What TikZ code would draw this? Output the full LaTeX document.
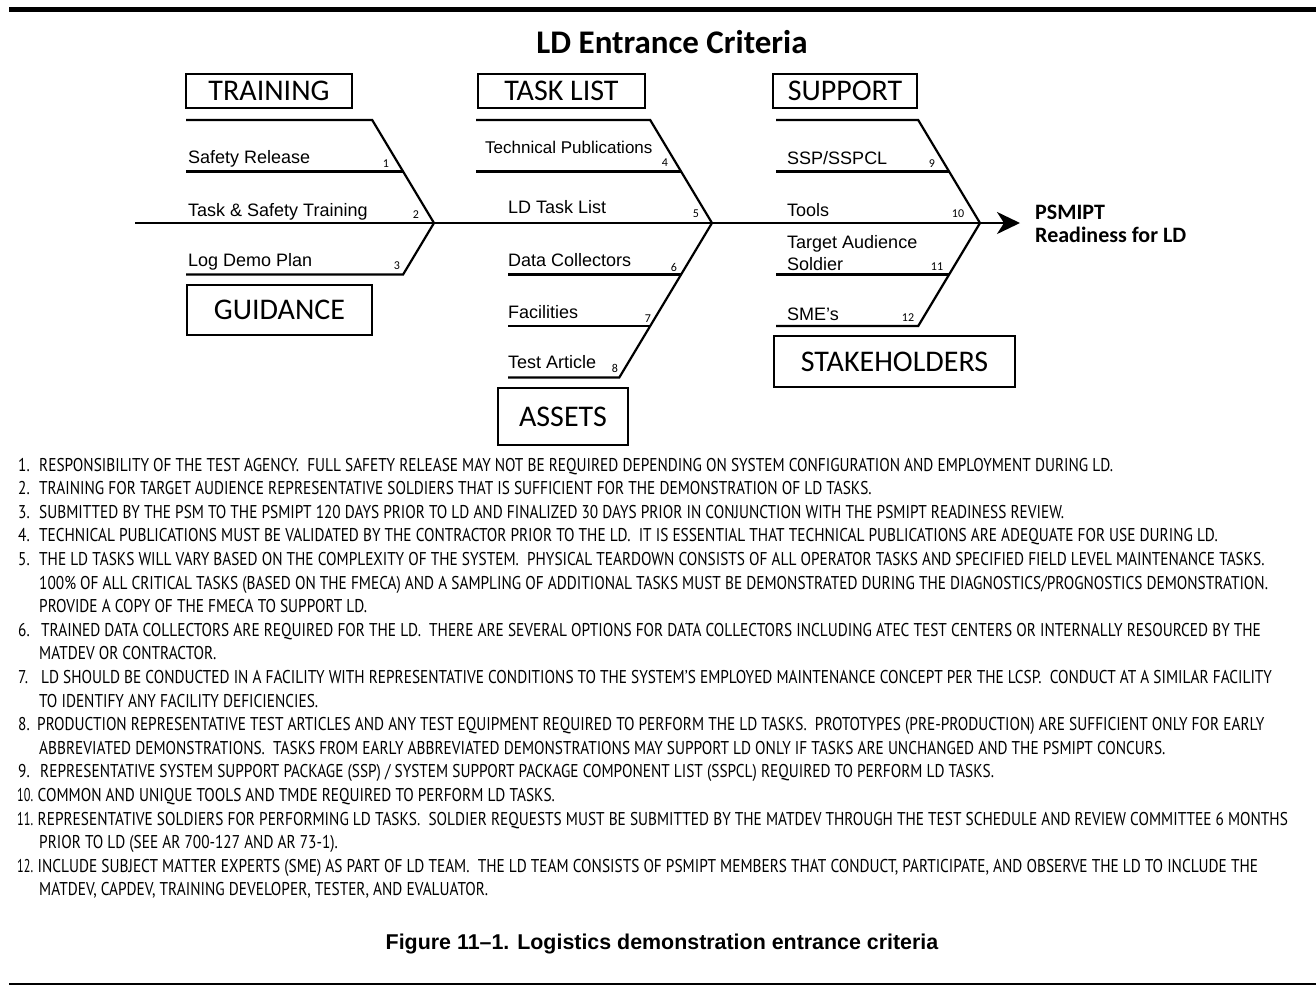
\documentclass[tikz,border=0pt]{standalone}
\usepackage{fontspec}
\usepackage{graphicx}
\usetikzlibrary{arrows.meta}
\setmainfont{Liberation Sans}
\newfontfamily\boxfont{Carlito}
\newfontfamily\notefont{PT Sans}
\newcommand\notesize{\fontsize{18.5}{20}\selectfont}
\newsavebox\calbox

% horizontal condensing factor for the notes, from the width of the first note
\AtBeginDocument{%
  \sbox\calbox{\notefont\notesize RESPONSIBILITY OF THE TEST AGENCY.\ \ FULL SAFETY RELEASE MAY NOT BE REQUIRED DEPENDING ON SYSTEM CONFIGURATION AND EMPLOYMENT DURING LD.}%
  \pgfmathparse{1074/\wd\calbox}%
  \xdef\nsx{\pgfmathresult}%
  \pgfmathparse{0.8*\nsx}%
  \xdef\nsxn{\pgfmathresult}%
}

\tikzset{
  lbl/.style={anchor=base west, inner sep=0pt, font=\fontsize{18}{18}\selectfont},
  num/.style={anchor=base, inner sep=0pt, font=\boxfont\fontsize{12}{12}\selectfont},
  catbox/.style={draw, line width=2pt, inner sep=0pt, font=\boxfont\fontsize{30}{30}\selectfont},
  bone/.style={line width=2.2pt},
  spine/.style={line width=2.5pt},
  noteline/.style={anchor=base west, inner sep=0pt},
}

% one line of the numbered notes, condensed to the common width factor
\newcommand\nline[4]{\node[noteline] (#1) at (#2,#3) {\scalebox{\nsx}[1]{\notefont\notesize #4}};}
% two-digit note numbers, a little tighter
\newcommand\nnum[4]{\node[noteline] (#1) at (#2,#3) {\scalebox{\nsxn}[1]{\notefont\notesize #4}};}

\begin{document}
\begin{tikzpicture}[x=1pt,y=-1pt]
  \fill[white] (0,0) rectangle (1316,994);
  \useasboundingbox (0,0) rectangle (1316,994);

  % page rules
  \coordinate (topL) at (9,9.5);   \coordinate (topR) at (1316,9.5);
  \coordinate (botL) at (9,984);   \coordinate (botR) at (1316,984);
  \draw[line width=5pt] (topL) -- (topR);
  \draw[line width=2pt] (botL) -- (botR);

  % title
  \node[anchor=base, inner sep=0pt, font=\boxfont\bfseries\fontsize{33}{33}\selectfont] (title) at (672,53) {LD Entrance Criteria};

  % category boxes
  \node[catbox, minimum width=166pt, minimum height=34pt] (training) at (269,91) {TRAINING};
  \node[catbox, minimum width=167pt, minimum height=34pt] (tasklist) at (561.5,91) {TASK LIST};
  \node[catbox, minimum width=144pt, minimum height=34pt] (support) at (845,91) {SUPPORT};
  \node[catbox, minimum width=185pt, minimum height=50pt] (guidance) at (279.5,310) {GUIDANCE};
  \node[catbox, minimum width=130pt, minimum height=57pt] (assets) at (563,416.5) {ASSETS};
  \node[catbox, minimum width=241pt, minimum height=51pt] (stakeholders) at (894.5,361.5) {STAKEHOLDERS};

  % spine with arrow
  \coordinate (spineL) at (135,223);
  \coordinate (tip) at (1020,223);
  \draw[spine, -{Stealth[length=23pt,width=22pt,inset=7pt]}] (spineL) -- (tip);

  % bone 1: training / guidance
  \coordinate (j1) at (434,223);
  \coordinate (t1) at (372.2,120);  \coordinate (t1s) at (186,120);
  \coordinate (a1) at (403.1,171.5); \coordinate (a1s) at (186,171.5);
  \coordinate (b1) at (403.1,274.5); \coordinate (b1s) at (186,274.5);
  \draw[bone] (t1s) -- (t1) -- (j1) -- (b1) -- (b1s);
  \draw[bone] (a1s) -- (a1);

  % bone 2: task list / assets
  \coordinate (j2) at (712,223);
  \coordinate (t2) at (650.2,120);  \coordinate (t2s) at (476,120);
  \coordinate (a2) at (681.1,171.5); \coordinate (a2s) at (476,171.5);
  \coordinate (b2) at (681.1,274.5); \coordinate (b2s) at (508,274.5);
  \coordinate (c2) at (650.2,326);   \coordinate (c2s) at (508,326);
  \coordinate (d2) at (619.3,377.5); \coordinate (d2s) at (508,377.5);
  \draw[bone] (t2s) -- (t2) -- (j2) -- (d2) -- (d2s);
  \draw[bone] (a2s) -- (a2);
  \draw[bone] (b2s) -- (b2);
  \draw[bone] (c2s) -- (c2);

  % bone 3: support / stakeholders
  \coordinate (j3) at (980,223);
  \coordinate (t3) at (918.2,120);  \coordinate (t3s) at (776,120);
  \coordinate (a3) at (949.1,171.5); \coordinate (a3s) at (776,171.5);
  \coordinate (b3) at (949.1,274.5); \coordinate (b3s) at (776,274.5);
  \coordinate (c3) at (918.2,326);   \coordinate (c3s) at (776,326);
  \draw[bone] (t3s) -- (t3) -- (j3) -- (c3) -- (c3s);
  \draw[bone] (a3s) -- (a3);
  \draw[bone] (b3s) -- (b3);

  % branch labels
  \node[lbl] (l1) at (188,163) {Safety Release};
  \node[lbl] (l2) at (188,216) {Task \& Safety Training};
  \node[lbl] (l3) at (188,266) {Log Demo Plan};
  \node[lbl, font=\fontsize{17}{17}\selectfont] (l4) at (485,153) {Technical Publications};
  \node[lbl] (l5) at (508,213) {LD Task List};
  \node[lbl] (l6) at (508,266) {Data Collectors};
  \node[lbl] (l7) at (508,318) {Facilities};
  \node[lbl] (l8) at (508,368) {Test Article};
  \node[lbl] (l9) at (787,164) {SSP/SSPCL};
  \node[lbl] (l10) at (787,216) {Tools};
  \node[lbl] (l11a) at (787,248) {Target Audience};
  \node[lbl] (l11b) at (787,270) {Soldier};
  \node[lbl] (l12) at (787,320) {SME’s};

  % note numbers on the bones
  \node[num] (k1) at (386,167) {1};
  \node[num] (k2) at (416,218) {2};
  \node[num] (k3) at (397,269) {3};
  \node[num] (k4) at (665,166) {4};
  \node[num] (k5) at (696,217) {5};
  \node[num] (k6) at (674,271) {6};
  \node[num] (k7) at (648,322) {7};
  \node[num] (k8) at (615,372) {8};
  \node[num] (k9) at (932,167) {9};
  \node[num] (k10) at (958,217) {10};
  \node[num] (k11) at (937,270) {11};
  \node[num] (k12) at (908,321) {12};

  % outcome
  \node[anchor=base west, inner sep=0pt, font=\boxfont\bfseries\fontsize{22}{22}\selectfont] (out1) at (1035,219) {PSMIPT};
  \node[anchor=base west, inner sep=0pt, font=\boxfont\bfseries\fontsize{22}{22}\selectfont] (out2) at (1035,242) {Readiness for LD};

  % numbered notes
  \nline{m1}{18}{471}{1.}
  \nline{n1}{39}{471}{RESPONSIBILITY OF THE TEST AGENCY.\ \ FULL SAFETY RELEASE MAY NOT BE REQUIRED DEPENDING ON SYSTEM CONFIGURATION AND EMPLOYMENT DURING LD.}
  \nline{m2}{18}{494.6}{2.}
  \nline{n2}{39}{494.6}{TRAINING FOR TARGET AUDIENCE REPRESENTATIVE SOLDIERS THAT IS SUFFICIENT FOR THE DEMONSTRATION OF LD TASKS.}
  \nline{m3}{18}{518.2}{3.}
  \nline{n3}{39}{518.2}{SUBMITTED BY THE PSM TO THE PSMIPT 120 DAYS PRIOR TO LD AND FINALIZED 30 DAYS PRIOR IN CONJUNCTION WITH THE PSMIPT READINESS REVIEW.}
  \nline{m4}{18}{541.8}{4.}
  \nline{n4}{39}{541.8}{TECHNICAL PUBLICATIONS MUST BE VALIDATED BY THE CONTRACTOR PRIOR TO THE LD.\ \ IT IS ESSENTIAL THAT TECHNICAL PUBLICATIONS ARE ADEQUATE FOR USE DURING LD.}
  \nline{m5}{18}{565.4}{5.}
  \nline{n5a}{39}{565.4}{THE LD TASKS WILL VARY BASED ON THE COMPLEXITY OF THE SYSTEM.\ \ PHYSICAL TEARDOWN CONSISTS OF ALL OPERATOR TASKS AND SPECIFIED FIELD LEVEL MAINTENANCE TASKS.}
  \nline{n5b}{39}{589}{100\% OF ALL CRITICAL TASKS (BASED ON THE FMECA) AND A SAMPLING OF ADDITIONAL TASKS MUST BE DEMONSTRATED DURING THE DIAGNOSTICS/PROGNOSTICS DEMONSTRATION.}
  \nline{n5c}{39}{612.6}{PROVIDE A COPY OF THE FMECA TO SUPPORT LD.}
  \nline{m6}{18}{636.2}{6.}
  \nline{n6a}{41}{636.2}{TRAINED DATA COLLECTORS ARE REQUIRED FOR THE LD.\ \ THERE ARE SEVERAL OPTIONS FOR DATA COLLECTORS INCLUDING ATEC TEST CENTERS OR INTERNALLY RESOURCED BY THE}
  \nline{n6b}{39}{659.8}{MATDEV OR CONTRACTOR.}
  \nline{m7}{18}{683.4}{7.}
  \nline{n7a}{41}{683.4}{LD SHOULD BE CONDUCTED IN A FACILITY WITH REPRESENTATIVE CONDITIONS TO THE SYSTEM’S EMPLOYED MAINTENANCE CONCEPT PER THE LCSP.\ \ CONDUCT AT A SIMILAR FACILITY}
  \nline{n7b}{39}{707}{TO IDENTIFY ANY FACILITY DEFICIENCIES.}
  \nline{m8}{18}{730.6}{8.}
  \nline{n8a}{37}{730.6}{PRODUCTION REPRESENTATIVE TEST ARTICLES AND ANY TEST EQUIPMENT REQUIRED TO PERFORM THE LD TASKS.\ \ PROTOTYPES (PRE-PRODUCTION) ARE SUFFICIENT ONLY FOR EARLY}
  \nline{n8b}{39}{754.2}{ABBREVIATED DEMONSTRATIONS.\ \ TASKS FROM EARLY ABBREVIATED DEMONSTRATIONS MAY SUPPORT LD ONLY IF TASKS ARE UNCHANGED AND THE PSMIPT CONCURS.}
  \nline{m9}{18}{777.8}{9.}
  \nline{n9}{40}{777.8}{REPRESENTATIVE SYSTEM SUPPORT PACKAGE (SSP) / SYSTEM SUPPORT PACKAGE COMPONENT LIST (SSPCL) REQUIRED TO PERFORM LD TASKS.}
  \nnum{m10}{17}{801.4}{10.}
  \nline{n10}{37.5}{801.4}{COMMON AND UNIQUE TOOLS AND TMDE REQUIRED TO PERFORM LD TASKS.}
  \nnum{m11}{17}{825}{11.}
  \nline{n11a}{37.5}{825}{REPRESENTATIVE SOLDIERS FOR PERFORMING LD TASKS.\ \ SOLDIER REQUESTS MUST BE SUBMITTED BY THE MATDEV THROUGH THE TEST SCHEDULE AND REVIEW COMMITTEE 6 MONTHS}
  \nline{n11b}{39}{848.6}{PRIOR TO LD (SEE AR 700-127 AND AR 73-1).}
  \nnum{m12}{17}{872.2}{12.}
  \nline{n12a}{37.5}{872.2}{INCLUDE SUBJECT MATTER EXPERTS (SME) AS PART OF LD TEAM.\ \ THE LD TEAM CONSISTS OF PSMIPT MEMBERS THAT CONDUCT, PARTICIPATE, AND OBSERVE THE LD TO INCLUDE THE}
  \nline{n12b}{39}{895.8}{MATDEV, CAPDEV, TRAINING DEVELOPER, TESTER, AND EVALUATOR.}

  % caption
  \node[anchor=base, inner sep=0pt, font=\bfseries\fontsize{21.4}{21.4}\selectfont] (caption) at (662,949) {Figure 11–1. Logistics demonstration entrance criteria};
\end{tikzpicture}
\end{document}
